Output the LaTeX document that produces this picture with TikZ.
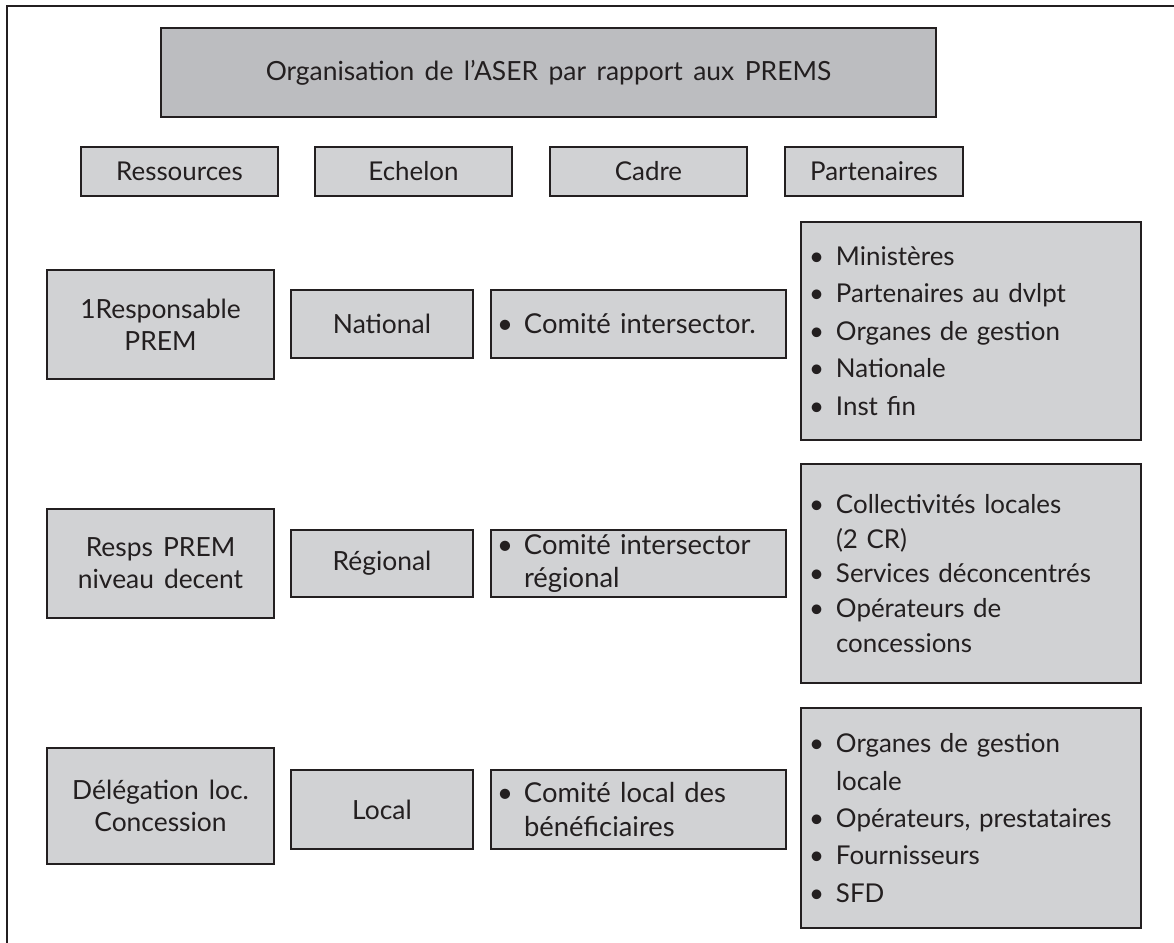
\documentclass[tikz,border=0pt]{standalone}
\usepackage{fontspec}
\setmainfont{Lato}
\definecolor{ink}{HTML}{231F20}
\definecolor{lightfill}{HTML}{D1D2D4}
\definecolor{darkfill}{HTML}{BCBDC0}
\newcommand\itm{\makebox[27bp][l]{\textbullet}}
\newcommand\cont{\hspace*{27bp}}
\newcommand\wsten{\spaceskip 10bp\relax}
\newcommand\wstitle{\spaceskip 10.5bp\relax}
\tikzset{
  outerline/.style={draw=ink, line width=2.6bp},
  box/.style={draw=ink, fill=lightfill, line width=2.2bp, inner sep=0pt, text=ink,
    font=\fontsize{26}{32}\selectfont, align=center},
  widebox/.style={box, font=\fontsize{26.5}{32}\selectfont\wsten},
  titlebox/.style={box, fill=darkfill, font=\fontsize{26.5}{32}\selectfont\wstitle},
  listbox/.style={box, align=left, inner xsep=8bp, text width=324bp,
    font=\fontsize{26}{37.5}\selectfont},
  cadrebox/.style={box, align=left, inner xsep=6bp, text width=283bp,
    font=\fontsize{27.5}{34}\selectfont\wsten},
}
\begin{document}
\begin{tikzpicture}[x=1bp,y=-1bp]
\useasboundingbox (0,0) rectangle (1174,943);
\fill[white] (0,0) rectangle (1174,943);
\draw[outerline] (7,943) -- (7,6) -- (1174,6);

% title
\node[titlebox, minimum width=775bp, minimum height=89bp] (title) at (548.5,72.5)
  {Organisation de l’ASER par rapport aux PREMS};

% headers
\node[box, minimum width=197bp, minimum height=49bp] (hres) at (179.5,171.5) {Ressources};
\node[box, minimum width=197bp, minimum height=49bp] (hech) at (413.5,171.5) {Echelon};
\node[box, minimum width=197bp, minimum height=49bp] (hcad) at (648.5,171.5) {Cadre};
\node[box, minimum width=178bp, minimum height=49bp] (hpar) at (874,171.5) {Partenaires};

% row 1
\node[widebox, minimum width=227bp, minimum height=109bp] (res1) at (160.5,324.5) {1Responsable\\PREM};
\node[widebox, minimum width=182bp, minimum height=68bp] (ech1) at (382,324) {National};
\node[cadrebox, minimum height=68bp] (cad1) at (638.5,324) {\itm Comité intersector.};
\node[listbox, minimum height=218bp] (par1) at (971,331)
  {\itm Ministères\\\itm Partenaires au dvlpt\\\itm Organes de gestion\\\itm Nationale\\\itm Inst fin};

% row 2
\node[widebox, minimum width=227bp, minimum height=109bp] (res2) at (160.5,563.5) {Resps PREM\\niveau decent};
\node[widebox, minimum width=182bp, minimum height=67bp] (ech2) at (382,563.5) {Régional};
\node[cadrebox, minimum height=67bp] (cad2) at (638.5,563.5) {\itm Comité intersector\\\cont régional};
\node[listbox, minimum height=219bp, font=\fontsize{26}{35}\selectfont] (par2) at (971,573.5)
  {\itm Collectivités locales\\\cont (2 CR)\\\itm Services déconcentrés\\\itm Opérateurs de\\\cont concessions};

% row 3
\node[widebox, minimum width=227bp, minimum height=116bp] (res3) at (160.5,806) {Délégation loc.\\Concession};
\node[widebox, minimum width=182bp, minimum height=79bp] (ech3) at (382,809.5) {Local};
\node[cadrebox, minimum height=79bp] (cad3) at (638.5,809.5) {\itm Comité local des\\\cont bénéficiaires};
\node[listbox, minimum height=220bp] (par3) at (971,818)
  {\itm Organes de gestion\\\cont locale\\\itm Opérateurs, prestataires\\\itm Fournisseurs\\\itm SFD};
\end{tikzpicture}
\end{document}
